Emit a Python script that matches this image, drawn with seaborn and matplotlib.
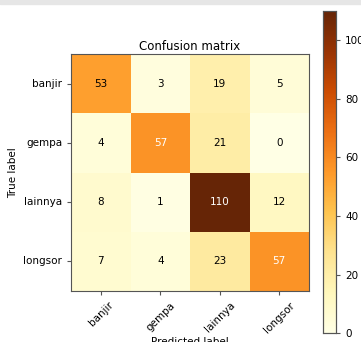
import numpy as np
import pandas as pd
import matplotlib
matplotlib.use("Agg")
import matplotlib.pyplot as plt
import seaborn as sns

classes = ["banjir", "gempa", "lainnya", "longsor"]
row_banjir = [53, 3, 19, 5]
row_gempa = [4, 57, 21, 0]
row_lainnya = [8, 1, 110, 12]
row_longsor = [7, 4, 23, 57]

cm = pd.DataFrame([row_banjir, row_gempa, row_lainnya, row_longsor],
                  index=classes, columns=classes)

fig = plt.figure(figsize=(3.61, 3.42), dpi=100)
# light grey strip at the top of the screenshot
fig.patches.append(plt.Rectangle((0, 0.988), 1, 0.012, transform=fig.transFigure,
                                 color="#e6e6e6", zorder=0))
ax = fig.add_axes([0.197, 0.149, 0.659, 0.693])
cax = fig.add_axes([0.895, 0.026, 0.036, 0.942])

sns.heatmap(cm, ax=ax, cbar_ax=cax, cmap="YlOrBr", vmin=0, vmax=cm.values.max(),
            annot=True, fmt="d", annot_kws={"fontsize": 7.5}, square=False)

# white text on dark cells, like sklearn's plot
thresh = cm.values.max() / 2.0
for t, v in zip(ax.texts, cm.values.flatten()):
    t.set_color("white" if v > thresh else "black")

for s in ax.spines.values():
    s.set_visible(True)
    s.set_color("#555555")
    s.set_linewidth(0.8)

ax.set_title("Confusion matrix", fontsize=8.5, pad=3)
ax.set_ylabel("True label", fontsize=7.5)
ax.set_xlabel("Predicted label", fontsize=7.5, labelpad=2)
ax.tick_params(axis="both", labelsize=7.5, length=3, color="#555555")
ax.set_xticklabels(classes, rotation=45, ha="center")
ax.set_yticklabels(classes, rotation=0)

cax.set_yticks([0, 20, 40, 60, 80, 100])
cax.tick_params(labelsize=7.5, length=3, color="#555555")
for s in cax.spines.values():
    s.set_visible(True)
    s.set_color("#555555")
    s.set_linewidth(0.8)

fig.savefig("out.png", dpi=100)
